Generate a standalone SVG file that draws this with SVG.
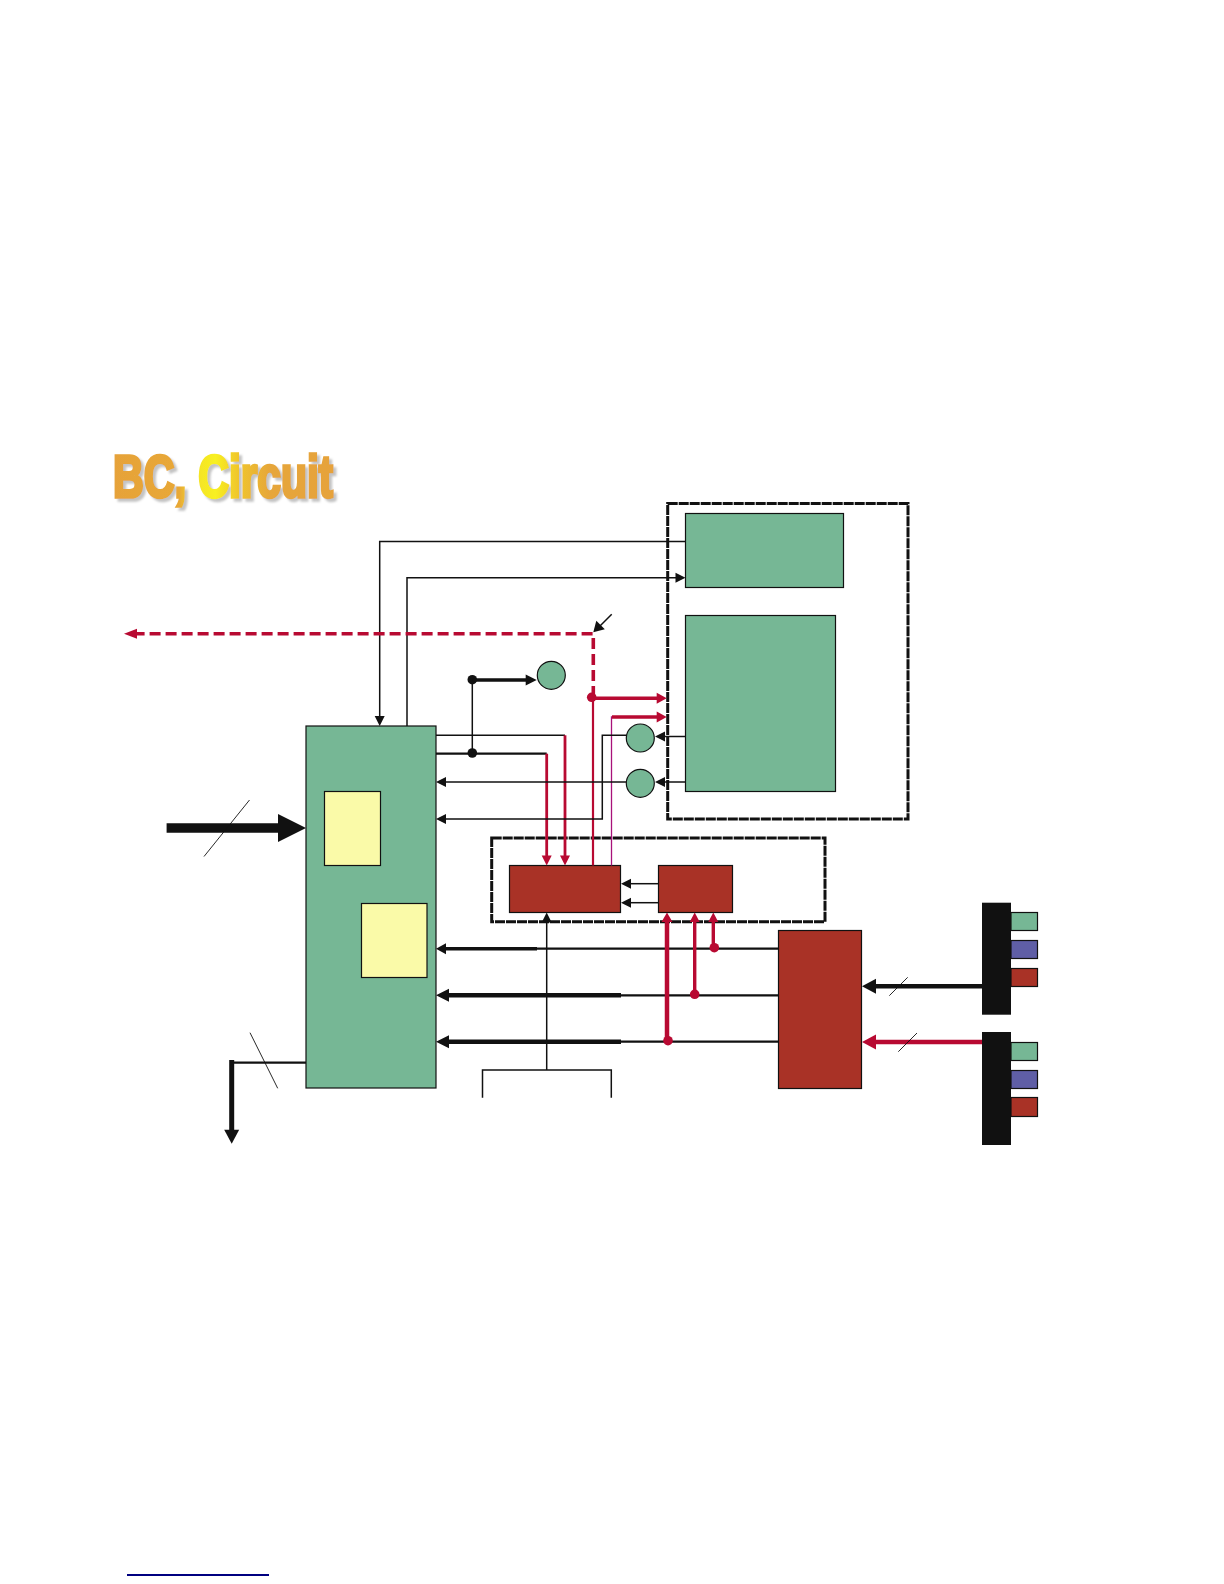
<svg xmlns="http://www.w3.org/2000/svg" width="1224" height="1584" viewBox="0 0 1224 1584">
<style>
.g{fill:#76b795;stroke:#111;stroke-width:1.2}
.r{fill:#a93226;stroke:#111;stroke-width:1.2}
.y{fill:#fafaa8;stroke:#111;stroke-width:1.2}
.b{fill:#5f5ea6;stroke:#111;stroke-width:1.2}
.k{fill:#111;stroke:none}
.box{fill:none;stroke:#111;stroke-width:3;stroke-dasharray:10 1}
.l{fill:none;stroke:#111}
.c{fill:none;stroke:#b80a32}
.t1{stroke-width:1.5}.t2{stroke-width:2.2}.t25{stroke-width:2.8}.t3{stroke-width:3.4}.t4{stroke-width:4.5}
.hk{fill:#111}.hc{fill:#b80a32}
</style>
<defs>
<linearGradient id="tg" gradientUnits="userSpaceOnUse" x1="111" y1="0" x2="338" y2="0">
<stop offset="0" stop-color="#e6a23a"/><stop offset="0.3" stop-color="#e8a836"/><stop offset="0.36" stop-color="#f3e02a"/><stop offset="0.46" stop-color="#f8f020"/><stop offset="0.56" stop-color="#f0c62c"/><stop offset="0.7" stop-color="#e6a63a"/><stop offset="1" stop-color="#e6a23a"/>
</linearGradient>
<filter id="ts" x="-5%" y="-10%" width="115%" height="130%"><feDropShadow dx="3" dy="3" stdDeviation="1" flood-color="#c4c4c4"/></filter>
</defs>
<rect width="1224" height="1584" fill="#fff"/>

<g id="title"><text x="113" y="497" font-family="'Liberation Sans Narrow','Liberation Sans',sans-serif" font-weight="700" font-size="60" textLength="220" lengthAdjust="spacingAndGlyphs" fill="url(#tg)" stroke="url(#tg)" stroke-width="3.5" stroke-linejoin="miter" filter="url(#ts)">BC, Circuit</text></g>

<g id="memory-box">
<rect class="box" x="667.7" y="503.5" width="240.3" height="315.5"/>
<rect class="g" x="685.5" y="513.5" width="158" height="74"/>
<rect class="g" x="685.5" y="615.5" width="150" height="176"/>
</g>
<g id="main-block">
<rect class="g" x="306" y="726" width="130" height="362"/>
<rect class="y" x="324.500" y="791.500" width="56" height="74"/>
<rect class="y" x="361.500" y="903.500" width="65.500" height="74"/>
</g>
<g id="circle-a"><circle class="g" cx="551.300" cy="675.300" r="14"/></g>
<g id="circle-b"><circle class="g" cx="640.300" cy="738" r="14"/></g>
<g id="circle-c"><circle class="g" cx="640.300" cy="783.300" r="14"/></g>
<g id="logic-box">
<rect class="box" x="491.700" y="838" width="333.300" height="83.700"/>
<rect class="r" x="509.500" y="865.500" width="111" height="47"/>
<rect class="r" x="658.500" y="865.500" width="74" height="47"/>
</g>
<g id="interface-block"><rect class="r" x="778.500" y="930.500" width="83" height="158"/></g>
<g id="connector-top">
<rect class="k" x="982" y="902.700" width="29" height="112"/>
<rect class="g" x="1011" y="912.500" width="26.500" height="18"/>
<rect class="b" x="1011" y="940.500" width="26.500" height="18"/>
<rect class="r" x="1011" y="968.500" width="26.500" height="18"/>
</g>
<g id="connector-bottom">
<rect class="k" x="982" y="1032" width="29" height="113"/>
<rect class="g" x="1011" y="1042.500" width="26.500" height="18"/>
<rect class="b" x="1011" y="1070.500" width="26.500" height="18"/>
<rect class="r" x="1011" y="1097.500" width="26.500" height="19"/>
</g>
<g id="open-box"><path class="l t1" d="M482.500 1097.700V1070H611.300V1097.700"/></g>
<g id="link-line"><path d="M127 1575H269" fill="none" stroke="#000080" stroke-width="1.800"/></g>

<g id="connectors">
<path class="l t1" d="M685.500 541.500H379.700V718"/><path class="hk" d="M379.700 726l-5-10h10z"/>
<path class="l t1" d="M407 726V577.700H677"/><path class="hk" d="M685.500 577.700l-10-5v10z"/>
<path class="l" stroke-width="9.500" d="M166.600 828H278"/><path class="hk" d="M306 828l-28-14v28z"/>
<path class="l" stroke-width="0.900" d="M249.500 800L204 856.500"/>
<path class="l t2" d="M306 1062.700H231.700"/><path class="l" stroke-width="5" d="M231.700 1060V1131"/><path class="hk" d="M231.700 1143.700l-7.500-14h15z"/>
<path class="l" stroke-width="0.900" d="M250 1032.700L277.700 1088.300"/>
<path class="c" stroke-width="3.600" stroke-dasharray="11 5" d="M593.300 697V633.700H133"/><path class="hc" d="M124 633.700l13-5v10z"/>
<path class="l t1" d="M611.700 614.300L598 628"/><path class="hk" d="M593.300 632.300l3-11.500 8.500 8.500z"/>
<circle class="hc" cx="591.700" cy="697.300" r="4.800"/>
<path class="c t2" d="M593 697V865.500"/>
<path class="c t3" d="M592 698.300H658"/><path class="hc" d="M666.700 698.300l-10-5.500v11z"/>
<path stroke="#a8127a" stroke-width="1.300" fill="none" d="M611.500 865.500V717H640"/><path class="c t3" d="M612 717H658"/><path class="hc" d="M666.700 717l-10-5.500v11z"/>
<path class="l t1" d="M472.300 680V753"/>
<circle class="hk" cx="472.300" cy="679.700" r="4.800"/><circle class="hk" cx="472.300" cy="753" r="4.800"/>
<path class="l t3" d="M472.300 680H528"/><path class="hk" d="M536.700 680l-11-5.500v11z"/>
<path class="l t1" d="M436 735.300H565"/><path class="c t25" d="M565 735.300V856"/><path class="hc" d="M565 865.500l-5-10h10z"/>
<path class="l t2" d="M436 753.700H546.700"/><path class="c t25" d="M546.700 753.700V856"/><path class="hc" d="M546.700 865.500l-5-10h10z"/>
<path class="l t1" d="M626.300 735.300H602.300V819H444"/><path class="hk" d="M436 819l10-5v10z"/>
<path class="l t1" d="M626.300 782H444"/><path class="hk" d="M436 782l10-5v10z"/>
<path class="l t1" d="M685.500 736.500H663"/><path class="hk" d="M655 736.500l10-5v10z"/>
<path class="l t1" d="M685.500 782H663"/><path class="hk" d="M655 782l10-5v10z"/>
<path class="l t1" d="M658.500 883.700H629"/><path class="hk" d="M621 883.700l10-5v10z"/>
<path class="l t1" d="M658.500 902.700H629"/><path class="hk" d="M621 902.700l10-5v10z"/>
<path class="l t1" d="M546.700 1070V921"/><path class="hk" d="M546.700 912.500l-5 10h10z"/>
<path class="l t2" d="M778.500 948.700H537"/><path class="l t3" d="M537 948.700H444"/><path class="hk" d="M436 948.700l10-5.500v11z"/>
<path class="l t2" d="M778.500 995.300H621"/><path class="l t4" d="M621 995.300H446"/><path class="hk" d="M436 995.300l13-6.500v13z"/>
<path class="l t2" d="M778.500 1041.700H621"/><path class="l t4" d="M621 1041.700H446"/><path class="hk" d="M436 1041.700l13-6.500v13z"/>
<path class="c t4" d="M667 1041V920"/><path class="hc" d="M667 912.500l-5.500 9.500h11z"/><circle class="hc" cx="668" cy="1040.700" r="4.800"/>
<path class="c t3" d="M694.700 994V920"/><path class="hc" d="M694.700 912.500l-5 9.500h10z"/><circle class="hc" cx="694.700" cy="994.300" r="4.800"/>
<path class="c t3" d="M713.300 947V920"/><path class="hc" d="M713.300 912.500l-5 9.500h10z"/><circle class="hc" cx="714.300" cy="947.700" r="4.800"/>
<path class="l t4" d="M982 986.300H874"/><path class="hk" d="M862 986.300l14-7.500v15z"/>
<path class="l" stroke-width="0.900" d="M907.700 977.300L889.300 995.700"/>
<path class="c t4" d="M982 1042H874"/><path class="hc" d="M862 1042l14-7.500v15z"/>
<path class="l" stroke-width="0.900" d="M917 1033L898.300 1051.700"/>
</g>
</svg>
